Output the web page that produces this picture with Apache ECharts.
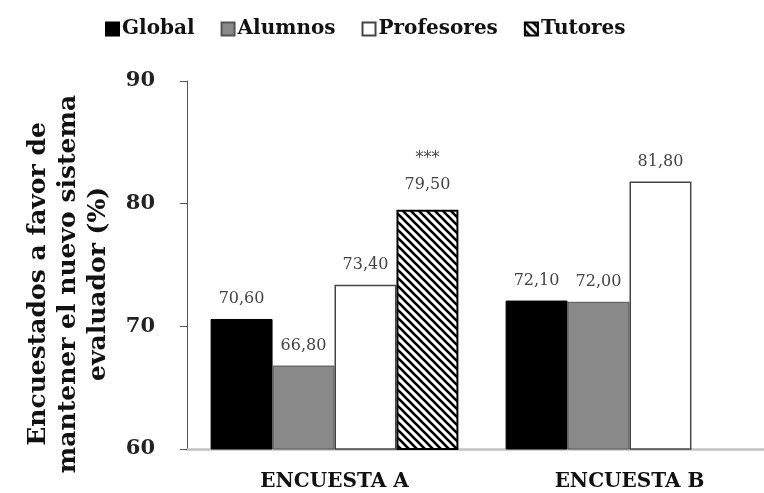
<!DOCTYPE html>
<html>
<head>
<meta charset="utf-8">
<script src="https://cdn.jsdelivr.net/npm/echarts@6/dist/echarts.min.js"></script>
<style>
  html, body { margin: 0; padding: 0; background: #fff; }
  #chart { width: 764px; height: 493px; }
</style>
</head>
<body>
<div id="chart"></div>
<script>
// Survey data: share of respondents in favour of keeping the new assessment system
const categories = ['ENCUESTA A', 'ENCUESTA B'];
const seriesNames = ['Global', 'Alumnos', 'Profesores', 'Tutores'];
const globalValues = [70.6, 72.1];
const alumnosValues = [66.8, 72.0];
const profesoresValues = [73.4, 81.8];
const tutoresValues = [79.5, null];
const tutoresMark = ['***', ''];
const yTicks = [60, 70, 80, 90];

const SERIF = '"DejaVu Serif", "Liberation Serif", serif';

// Diagonal hatch tile for the Tutores bars
function hatchPattern() {
  const s = 8;
  const c = document.createElement('canvas');
  c.width = s; c.height = s;
  const g = c.getContext('2d');
  g.fillStyle = '#fff';
  g.fillRect(0, 0, s, s);
  g.strokeStyle = '#000';
  g.lineWidth = 2.6;
  g.beginPath();
  g.moveTo(-2, -2); g.lineTo(s + 2, s + 2);
  g.moveTo(-2, s - 2); g.lineTo(2, s + 2);
  g.moveTo(s - 2, -2); g.lineTo(s + 2, 2);
  g.stroke();
  return { image: c, repeat: 'repeat' };
}

const fmt = v => v.toFixed(2).replace('.', ',');

const labelBase = {
  show: true,
  position: 'top',
  distance: 12,
  fontFamily: SERIF,
  fontSize: 16,
  color: '#444'
};

function makeSeries(name, values, itemStyle, formatter) {
  return {
    name: name,
    type: 'bar',
    data: values,
    barGap: '0%',
    barCategoryGap: '16%',
    itemStyle: itemStyle,
    label: Object.assign({}, labelBase, formatter ? formatter : {
      formatter: p => (p.value == null ? '' : fmt(p.value))
    })
  };
}

const chart = echarts.init(document.getElementById('chart'), null, { renderer: 'canvas' });

chart.setOption({
  backgroundColor: '#fff',
  animation: false,
  legend: {
    top: 14,
    left: 100,
    icon: 'rect',
    itemWidth: 13,
    itemHeight: 13,
    itemGap: 26,
    textStyle: { fontFamily: SERIF, fontWeight: 'bold', fontSize: 20, color: '#111', padding: [0, 0, 0, -2] },
    data: seriesNames
  },
  // the plot area runs slightly past the right edge, so the empty fourth slot of B is cut
  grid: { left: 187, width: 590, top: 81, bottom: 44, containLabel: false, outerBoundsMode: 'none' },
  xAxis: {
    type: 'category',
    data: categories,
    axisLine: { lineStyle: { color: '#c4c4c4', width: 2.5 } },
    axisTick: { show: false },
    axisLabel: { fontFamily: SERIF, fontWeight: 'bold', fontSize: 20, color: '#111', margin: 23 }
  },
  yAxis: {
    type: 'value',
    min: yTicks[0],
    max: yTicks[yTicks.length - 1],
    interval: 10,
    axisLine: { show: true, lineStyle: { color: '#555', width: 1 } },
    axisTick: { show: true, length: 7, lineStyle: { color: '#555' } },
    splitLine: { show: false },
    axisLabel: { fontFamily: SERIF, fontWeight: 'bold', fontSize: 21, color: '#222', margin: 32 }
  },
  graphic: [{
    type: 'text',
    x: 68,
    y: 284,
    rotation: Math.PI / 2,
    style: {
      text: 'Encuestados a favor de\nmantener el nuevo sistema\nevaluador (%)',
      fontFamily: SERIF,
      fontWeight: 'bold',
      fontSize: 25,
      lineHeight: 30,
      fill: '#111',
      align: 'center',
      verticalAlign: 'middle'
    }
  }],
  series: [
    makeSeries('Global', globalValues, { color: '#000', borderColor: '#000', borderWidth: 1 }),
    makeSeries('Alumnos', alumnosValues, { color: '#898989', borderColor: '#555', borderWidth: 1 }),
    makeSeries('Profesores', profesoresValues, { color: '#fff', borderColor: '#444', borderWidth: 1.5 }),
    makeSeries('Tutores', tutoresValues, { color: hatchPattern(), borderColor: '#000', borderWidth: 2 }, {
      formatter: p => (p.value == null ? '' : '{s|' + tutoresMark[p.dataIndex] + '}\n' + fmt(p.value)),
      lineHeight: 26,
      rich: { s: { fontFamily: SERIF, fontSize: 16, color: '#444', lineHeight: 26 } }
    })
  ]
});
</script>
</body>
</html>
